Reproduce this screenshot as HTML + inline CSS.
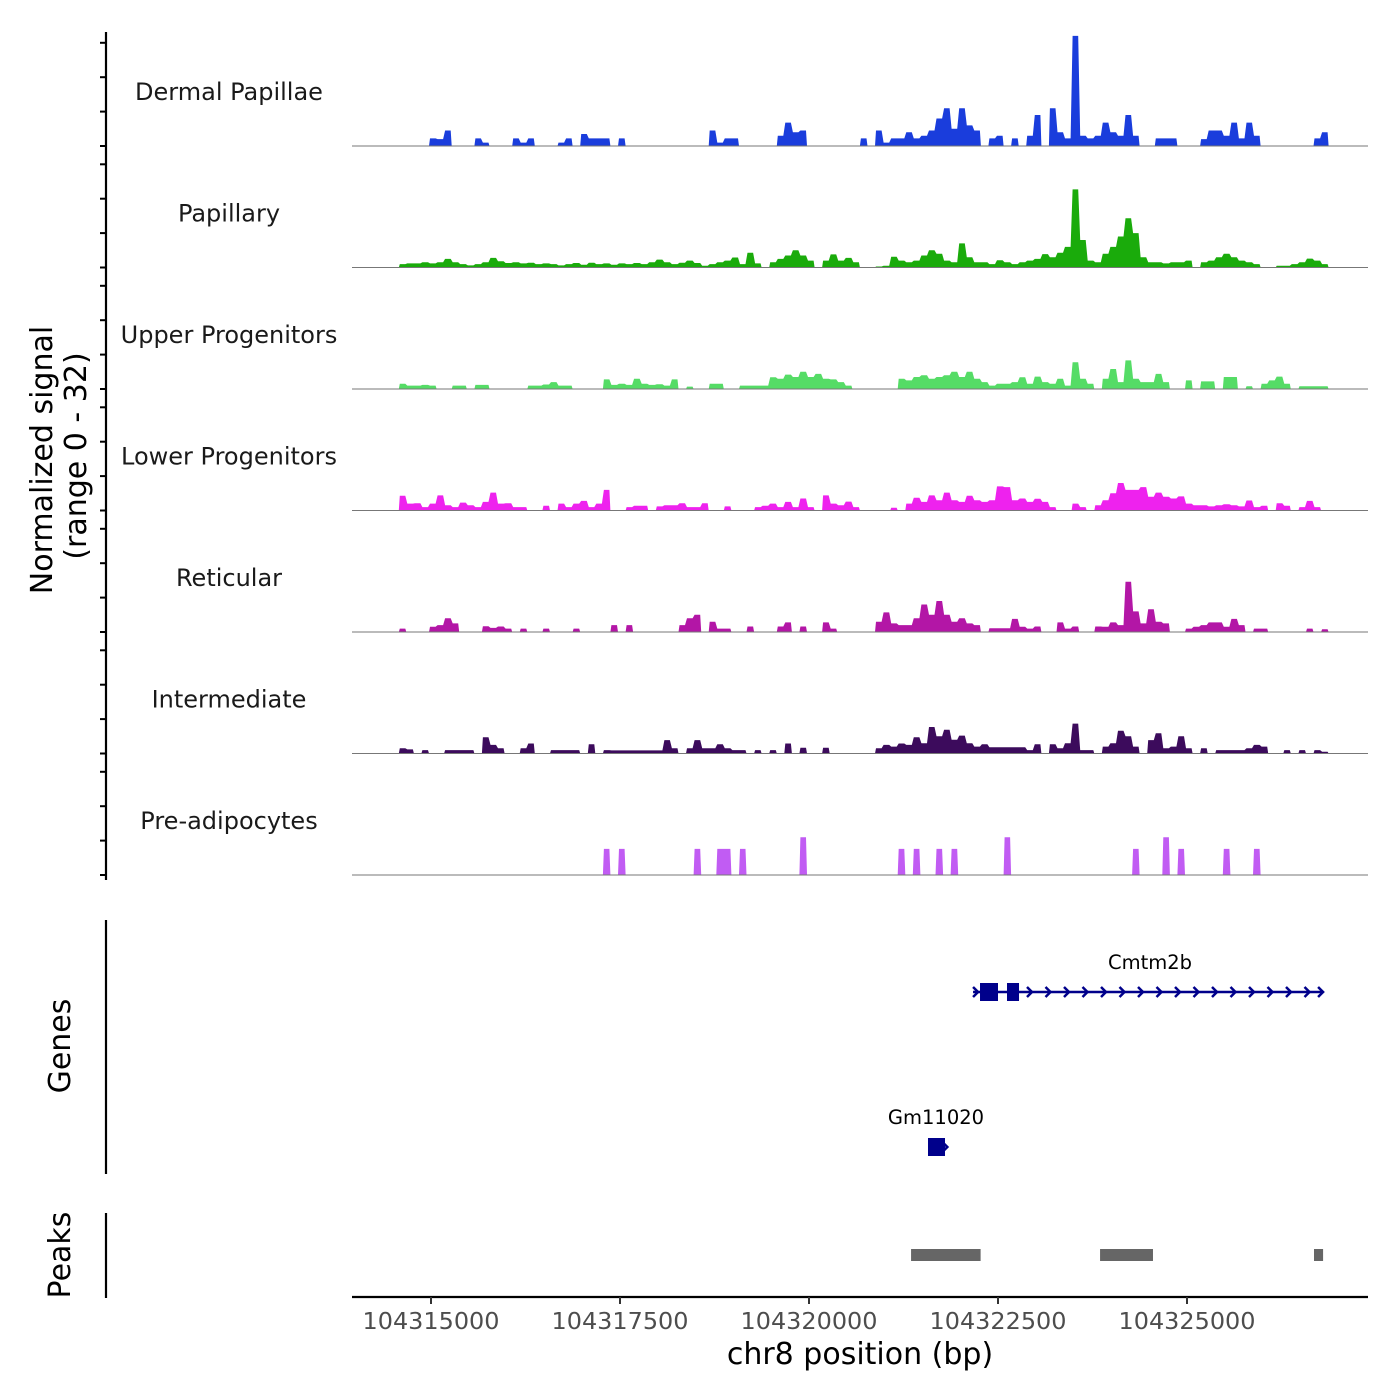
<!DOCTYPE html>
<html><head><meta charset="utf-8"><style>
html,body{margin:0;padding:0;background:#fff;}
svg{display:block;font-family:"DejaVu Sans","Liberation Sans",sans-serif;}
</style></head><body>
<svg id="chart" width="1400" height="1400" viewBox="0 0 1400 1400">
<g id="tracks"></g>
<g id="left-axis"></g>
<text transform="translate(52,460) rotate(-90)" text-anchor="middle" font-size="30" fill="#000">Normalized signal</text>
<text transform="translate(86,456) rotate(-90)" text-anchor="middle" font-size="30" fill="#000">(range 0 - 32)</text>
<line x1="106" y1="920" x2="106" y2="1174" stroke="#000" stroke-width="2.2"/>
<text transform="translate(70,1046) rotate(-90)" text-anchor="middle" font-size="30" fill="#000">Genes</text>
<g id="genes"></g>
<line x1="106" y1="1213" x2="106" y2="1298" stroke="#000" stroke-width="2.2"/>
<text transform="translate(70,1255) rotate(-90)" text-anchor="middle" font-size="30" fill="#000">Peaks</text>
<g id="peaks"></g>
<g id="x-axis"></g>
<text x="860" y="1364" text-anchor="middle" font-size="30" fill="#000">chr8 position (bp)</text>
</svg>
<script>
const trackNames = ["Dermal Papillae","Papillary","Upper Progenitors","Lower Progenitors","Reticular","Intermediate","Pre-adipocytes"];
const binStart = 104314500;
const binSize = 100;
const dermalPapillae = [0,0,0,0,0,2.2,2,4.5,0,0, 0,2.2,1,0,0,0,2.2,1,2.2,0, 0,0,1,2.2,0,3.5,2.2,2.2,2.2,0, 2.2,0,0,0,0,0,0,0,0,0, 0,0,4.5,1,2.2,2.2,0,0,0,0, 0,3,6.8,4,4.5,0,0,0,0,0, 0,0,2.2,0,4.5,1,2.2,2.2,4,2.2, 3,4.5,8,11,5,11,6,4.5,0,2.2, 3,0,2.2,0,3,9,0,11,4,2.2, 32,3,2.2,3,6.8,4,3,9,3,0, 0,2.2,2.2,2.2,0,0,0,2,4.5,4.5, 3,6.8,2.2,6.8,3,0,0,0,0,0, 0,0,2.2,4];
const papillary = [0,1,1.2,1.2,1.5,1.2,1.5,2.5,1.5,1, 0.6,1,1.5,2.8,1.8,1.3,1.5,1.2,1.4,1, 1.2,1,0.6,1,1.3,0.8,1.4,1,1.2,0.8, 1.2,1,1.3,1,1.5,2.3,1.5,1,1.4,2, 1.3,0.5,1,1.5,2,2.9,1,4.3,1.2,0, 1.5,2.5,3.5,5,3.5,2,0,2,3.8,2, 2.8,1.5,0,0,0.3,0.5,3.1,2,1.5,2, 3.5,5,4,2,1.5,7,3,1.5,1.5,1, 2.1,1.5,1,1.5,2,2.5,3.9,3,4.3,6, 22.7,8,2,1.5,4,6,9,14.3,10,3, 1.5,1.5,1.2,1.5,1.5,2,0,1.5,2,3, 4,3,2,1.5,1,0,0,0.5,0.5,1, 1.5,2.6,2,1];
const upperProgenitors = [0,1.5,1,1,1.2,1,0,0,1,1, 0,1.2,1.2,0,0,0,0,0,1,1, 1.3,2,1,1,0,0,0,0,2.8,1.2, 1.5,1.2,3,1.5,1.2,1.4,1,2.8,0,0.7, 0,0,1.5,1.5,0,0,1,1,1,1, 3.4,3,4.2,3.5,5,3.5,4.4,3,2.8,2, 1,0,0,0,0,0,0,3,2.5,3.5, 4,3,3.5,4,5,3.5,5,3,2,1, 1.5,1.5,2,3.4,1.5,3.6,2,1.5,3,1, 7.8,3,1.5,0,3,5.8,2,8.3,3,2, 2,4.4,2,0,0,2.5,0,2.2,2.2,0, 3.5,3.5,0,0.8,0,1.5,2.5,3.6,1.5,0, 0.8,0.8,0.8,0.8];
const lowerProgenitors = [0,4.3,2,2.1,1,2,4.4,1.5,1,2.3, 1.5,1,2.5,5.2,2,2.1,1,1,0,0, 1.4,0,2,1,2,2.8,1,2,6,0, 0,1,1.4,1.4,0,1.2,1.5,1.5,2.1,1, 1,2.1,0,0,1.2,0,0,0,1,1.4, 2,1,2.5,1,3.5,1,0,4.4,2,1.5, 2.6,1,0,0,0,0,0.8,0,2,3.7, 2.5,4.4,3,5.2,3,2.5,4.3,3,2.5,3, 7,6.8,3,3.5,2.5,3.4,2.5,1,0,0, 2,1,0,1.5,3,5,8,6,6,6.8, 4,5.2,4,3.5,4.1,2,1.5,1.5,1.2,1.5, 1.8,1.5,1.2,2.9,1,1.4,0,2.1,1.4,0, 1,2.8,1,0];
const reticular = [0,1,0,0,0,1.5,2,4,2.5,0, 0,0,1.7,1.2,1.6,1,0,1,0,0, 1,0,0,0,1,0,0,0,0,2, 0,2,0,0,0,0,0,0,2,4, 5,0,3,1,1,0,0,1.6,0,0, 0,1.6,2.8,0,1.6,0,0,2.8,1,0, 0,0,0,0,3,5.7,2.5,2,2,4, 8,5,9,5,3,4,2.5,2,0,1.1, 1.1,1.1,3.8,1.5,1,1.6,0,0,2.8,1, 1.6,0,0,1.6,1.5,2.8,2,14.6,6,2.5, 6.6,3,2.5,0,0,1,1.5,2,2.8,2.8, 1.5,3.8,2,0,1,1,0,0,0,0, 0,1,0,0.8];
const intermediate = [0,1.5,1.2,0,1,0,0,1,1,1, 1,0,4.7,2.5,1.5,0,0,1.5,2.9,0, 0,1,1,1,1,0,2.7,0,1,0.9, 0.9,0.9,0.9,0.9,0.9,0.9,3.9,1.5,0,1.5, 3.9,1.5,1.5,2.7,1.5,1,1,0,1,0, 1,0,2.9,0,1.7,0,0,1.7,0,0, 0,0,0,0,1.5,2.5,2,2.9,2.5,4.7, 3,7.7,5,6.9,4,5.2,3,2,2.7,1.8, 1.8,1.8,1.8,1.8,1,2.7,0,2.7,1.5,3, 8.7,1,1,0,2,3,6.6,5,2,0, 3.9,5.9,1.5,2,5,1.5,0,1.5,0,1, 1,1,1,1.5,2.5,2,0,0,1,0, 1,0,1,0.5];
const preAdipocytes = [0,0,0,0,0,0,0,0,0,0, 0,0,0,0,0,0,0,0,0,0, 0,0,0,0,0,0,0,0,7.6,0, 7.6,0,0,0,0,0,0,0,0,0, 7.6,0,0,7.6,7.6,0,7.6,0,0,0, 0,0,0,0,11,0,0,0,0,0, 0,0,0,0,0,0,0,7.6,0,7.6, 0,0,7.6,0,7.6,0,0,0,0,0, 0,11,0,0,0,0,0,0,0,0, 0,0,0,0,0,0,0,0,7.6,0, 0,0,11,0,7.6,0,0,0,0,0, 7.6,0,0,0,7.6,0,0,0,0,0, 0,0,0,0];
const trackSeries = [dermalPapillae,papillary,upperProgenitors,lowerProgenitors,reticular,intermediate,preAdipocytes];
const trackColors = ["#1a3ddc","#1aab0b","#55dc66","#ee22ee","#b316a6","#3c0b5c","#c15cf3"];
const xTicks = [104315000,104317500,104320000,104322500,104325000];
const xTickLabels = ["104315000","104317500","104320000","104322500","104325000"];
const yTicks = [0,10,20,30];
const genes = [
  {name:"Cmtm2b", start:104322170, end:104326800, exons:[[104322262,104322500],[104322619,104322778]], row:0},
  {name:"Gm11020", start:104321574, end:104321830, exons:[[104321574,104321799]], row:1}
];
const peaks = [[104321350,104322270],[104323850,104324550],[104326680,104326800]];

const NS = "http://www.w3.org/2000/svg";
function mk(tag, attrs, parent){const e=document.createElementNS(NS,tag);for(const k in attrs)e.setAttribute(k,attrs[k]);parent.appendChild(e);return e;}
const X0 = 104315000, PX0 = 431, PXPERBP = 189/2500;
function xScale(bp){return PX0 + (bp - X0)*PXPERBP;}
const trackTop0 = 146, trackStep = 121.5, pxPerUnit = 3.44;
function baseY(k){return trackTop0 + k*trackStep;}
function yScale(k, v){return baseY(k) - v*pxPerUnit;}

const gT = document.getElementById('tracks');
trackSeries.forEach((vals, k) => {
  const g = mk('g', {}, gT);
  
  
  const lbl = mk('text', {x:229, y:baseY(k)-46, 'text-anchor':'middle', 'font-size':24, fill:'#1a1a1a'}, g);
  lbl.textContent = trackNames[k];
  
  
  let d = '';
  let open = false;
  const b = baseY(k);
  for (let i = 0; i < vals.length; i++) {
    const x0 = xScale(binStart + i*binSize) - 2, x1 = xScale(binStart + (i+1)*binSize) - 2;
    const v = vals[i];
    if (v > 0) {
      const y = yScale(k, v);
      if (!open) { d += 'M' + x0.toFixed(1) + ',' + b + ' '; open = true; }
      d += 'L' + (x0+1).toFixed(1) + ',' + y.toFixed(1) + ' L' + (x1-1).toFixed(1) + ',' + y.toFixed(1) + ' ';
    } else if (open) {
      d += 'L' + x0.toFixed(1) + ',' + b + ' Z '; open = false;
    }
  }
  if (open) { d += 'L' + (xScale(binStart + vals.length*binSize)-2).toFixed(1) + ',' + b + ' Z'; }
  const p = mk('path', {d:d, fill:trackColors[k], stroke:'none'}, g);
  
  
  const bl = mk('line', {x1:352, x2:1368, y1:b, y2:b, stroke:'#777', 'stroke-width':1}, g);
  
  
});

const gL = document.getElementById('left-axis');
const al = mk('line', {x1:106, x2:106, y1:32, y2:880, stroke:'#000', 'stroke-width':2.2}, gL);


for (let k = 0; k < 7; k++) {
  yTicks.forEach(t => {
    const y = yScale(k, t);
    const tk = mk('line', {x1:100, x2:106, y1:y, y2:y, stroke:'#000', 'stroke-width':2}, gL);
    
    
  });
}

const gG = document.getElementById('genes');
const geneColor = '#00008b';
genes.forEach(gn => {
  const g = mk('g', {}, gG);
  
  
  const cy = gn.row === 0 ? 992 : 1147;
  const xs = xScale(gn.start), xe = xScale(gn.end);
  const t = mk('text', {x:gn.row===0?1150:936, y:cy-23, 'text-anchor':'middle', 'font-size':19.5, fill:'#000'}, g);
  t.textContent = gn.name;
  
  
  if (gn.row === 0) {
    const ln = mk('line', {x1:xs, x2:xe, y1:cy, y2:cy, stroke:geneColor, 'stroke-width':2.5}, g);
    
    
    let ad = 'M' + (xs) + ',' + (cy-5) + ' L' + (xs+5) + ',' + cy + ' L' + (xs) + ',' + (cy+5) + ' ';
    for (let ax = 1032; ax <= xe + 0.5; ax += 18.5) {
      ad += 'M' + (ax-5) + ',' + (cy-5) + ' L' + ax + ',' + cy + ' L' + (ax-5) + ',' + (cy+5) + ' ';
    }
    ad += 'M' + (xe-5) + ',' + (cy-5) + ' L' + (xe) + ',' + cy + ' L' + (xe-5) + ',' + (cy+5) + ' ';
    const ar = mk('path', {d:ad, fill:'none', stroke:geneColor, 'stroke-width':2.5}, g);
    
    
  } else {
    const ar = mk('path', {d:'M'+(xe-6)+','+(cy-6)+' L'+(xe)+','+cy+' L'+(xe-6)+','+(cy+6), fill:'none', stroke:geneColor, 'stroke-width':2.5}, g);
    
    
  }
  gn.exons.forEach(ex => {
    const r = mk('rect', {x:xScale(ex[0]), y:cy-9, width:xScale(ex[1])-xScale(ex[0]), height:18, fill:geneColor}, g);
    
    
  });
});

const gP = document.getElementById('peaks');
peaks.forEach(pk => {
  const r = mk('rect', {x:xScale(pk[0]), y:1249, width:xScale(pk[1])-xScale(pk[0]), height:12, fill:'#666'}, gP);
  
  
});

const gX = document.getElementById('x-axis');
const xl = mk('line', {x1:352, x2:1368, y1:1297, y2:1297, stroke:'#000', 'stroke-width':2.2}, gX);


xTicks.forEach((t, i) => {
  const x = xScale(t);
  const tk = mk('line', {x1:x, x2:x, y1:1297, y2:1304, stroke:'#333', 'stroke-width':2}, gX);
  
  
  const lb = mk('text', {x:x, y:1329, 'text-anchor':'middle', 'font-size':23, fill:'#4d4d4d', textLength:137, lengthAdjust:'spacingAndGlyphs'}, gX);
  lb.textContent = xTickLabels[i];
  
  
});
</script>
</body></html>
